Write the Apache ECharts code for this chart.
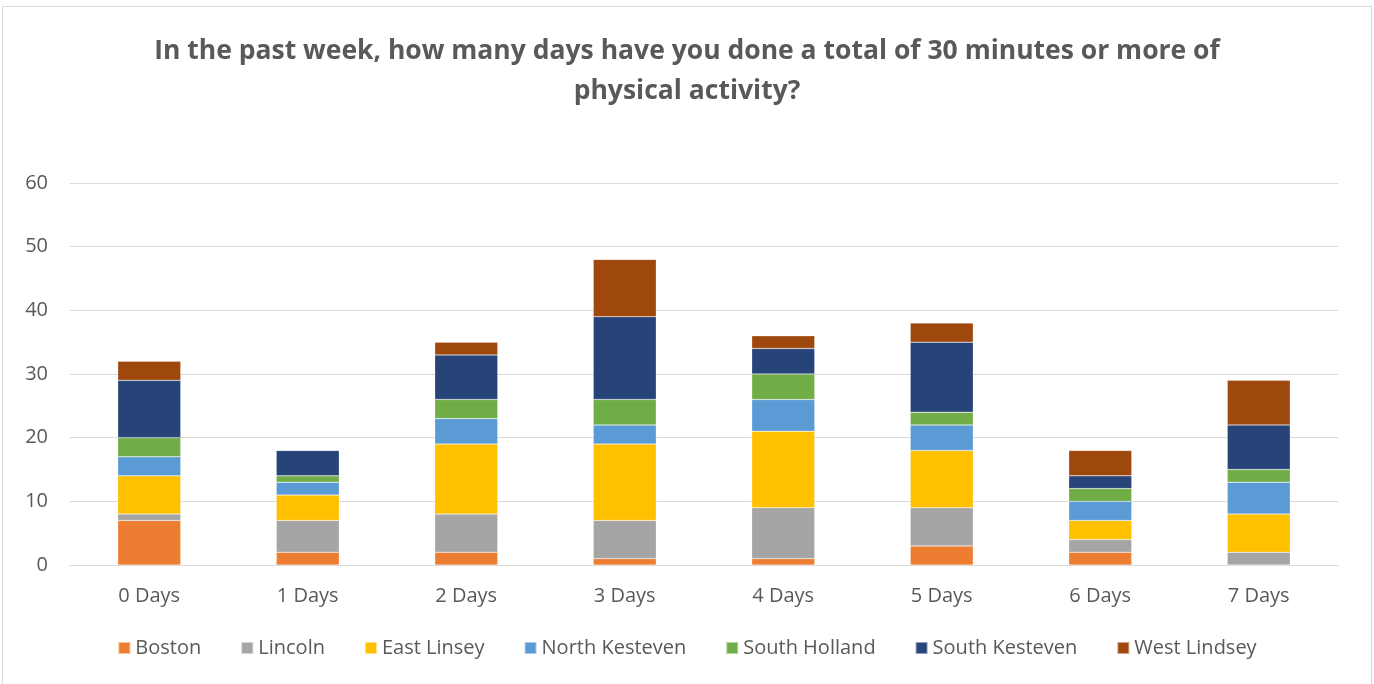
<!DOCTYPE html>
<html>
<head>
<meta charset="utf-8">
<script src="https://cdn.jsdelivr.net/npm/echarts@6/dist/echarts.min.js"></script>
<style>
html,body{margin:0;padding:0;background:#fff;}
#frame{position:absolute;left:2px;top:6px;width:1370px;height:690px;border:1px solid #d9d9d9;box-sizing:border-box;}
#main{position:absolute;left:0;top:0;width:1374px;height:684px;}
</style>
</head>
<body>
<div id="frame"></div>
<div id="main"></div>
<script>
// categories and values
var days = ['0 Days','1 Days','2 Days','3 Days','4 Days','5 Days','6 Days','7 Days'];
var boston        = [7, 2, 2, 1, 1, 3, 2, 0];
var lincoln       = [1, 5, 6, 6, 8, 6, 2, 2];
var eastLinsey    = [6, 4, 11, 12, 12, 9, 3, 6];
var northKesteven = [3, 2, 4, 3, 5, 4, 3, 5];
var southHolland  = [3, 1, 3, 4, 4, 2, 2, 2];
var southKesteven = [9, 4, 7, 13, 4, 11, 2, 7];
var westLindsey   = [3, 0, 2, 9, 2, 3, 4, 7];
var yTicks = [0, 10, 20, 30, 40, 50, 60];

var names = ['Boston','Lincoln','East Linsey','North Kesteven','South Holland','South Kesteven','West Lindsey'];
var colors = ['#ED7D31','#A5A5A5','#FFC000','#5B9BD5','#70AD47','#264478','#9E480E'];
var data = [boston, lincoln, eastLinsey, northKesteven, southHolland, southKesteven, westLindsey];

var series = [];
for (var i = 0; i < names.length; i++) {
  series.push({
    name: names[i],
    type: 'bar',
    stack: 'total',
    barWidth: 63,
    itemStyle: {color: colors[i], borderColor: 'rgba(255,255,255,0.5)', borderWidth: 0.5},
    data: data[i]
  });
}

var font = 'Open Sans, Noto Sans, sans-serif';
var myChart = echarts.init(document.getElementById('main'));
var option = {
  animation: false,
  textStyle: {fontFamily: font},
  title: {
    text: 'In the past week, how many days have you done a total of 30 minutes or more of\nphysical activity?',
    left: 'center',
    top: 26,
    textStyle: {fontSize: 26.5, fontWeight: 'bold', color: '#595959', lineHeight: 40, fontFamily: font}
  },
  legend: {
    bottom: 21,
    left: 'center',
    itemWidth: 12,
    itemHeight: 12,
    itemGap: 39,
    icon: 'rect',
    textStyle: {fontSize: 20, color: '#595959', fontFamily: font},
    data: names
  },
  grid: {left: 70, right: 36, top: 183, bottom: 119},
  xAxis: {
    type: 'category',
    data: days,
    axisTick: {show: false},
    axisLine: {lineStyle: {color: '#d9d9d9', width: 1}},
    axisLabel: {fontSize: 20, color: '#595959', margin: 21}
  },
  yAxis: {
    type: 'value',
    min: yTicks[0],
    max: yTicks[yTicks.length - 1],
    interval: 10,
    axisLine: {show: false},
    axisTick: {show: false},
    splitLine: {lineStyle: {color: '#d9d9d9', width: 1}},
    axisLabel: {fontSize: 20, color: '#595959', margin: 22}
  },
  series: series
};
myChart.setOption(option);
</script>
</body>
</html>
